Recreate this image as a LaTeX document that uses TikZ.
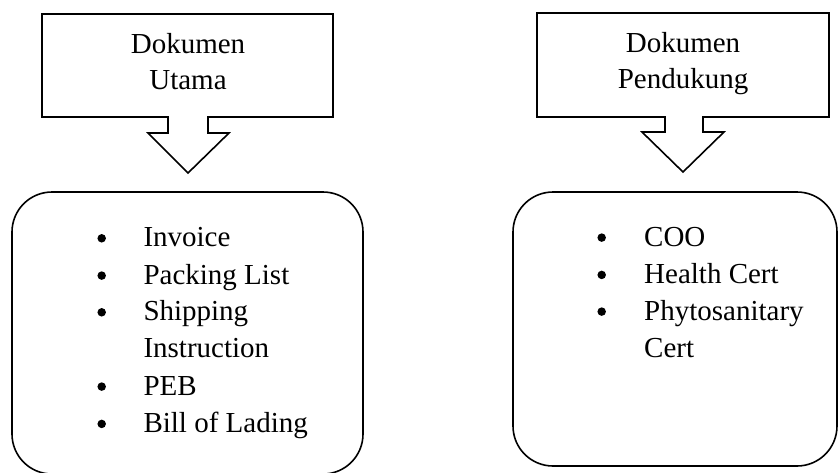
\documentclass[tikz,border=0pt]{standalone}
\usepackage{fontspec}
\setmainfont{Liberation Serif}
\begin{document}
\begin{tikzpicture}[x=1pt,y=-1pt,
  outline/.style={draw=black,line width=1.6pt,line join=miter},
  lbl/.style={inner sep=0pt,font=\fontsize{29}{36}\selectfont},
  bul/.style={circle,fill=black,inner sep=0pt,minimum size=8.5pt},
  item/.style={inner sep=0pt,font=\fontsize{29}{36}\selectfont,anchor=base west}]
\useasboundingbox (0,0) rectangle (839,472);
% left callout
\draw[outline] (42,14) -- (333,14) -- (333,117) -- (208,117) -- (208,133) -- (229,133)
  -- (188,173) -- (148,133) -- (168,133) -- (168,117) -- (42,117) -- cycle;
\node[lbl,anchor=base] (lt1) at (188,53) {Dokumen};
\node[lbl,anchor=base] (lt2) at (188,89) {Utama};
% right callout
\draw[outline] (537,13) -- (829,13) -- (829,117) -- (703,117) -- (703,132) -- (724,132)
  -- (683,172) -- (642,132) -- (665,132) -- (665,117) -- (537,117) -- cycle;
\node[lbl,anchor=base] (rt1) at (683,52) {Dokumen};
\node[lbl,anchor=base] (rt2) at (683,88) {Pendukung};
% rounded boxes
\draw[outline,rounded corners=40pt] (12,192) rectangle (363,474);
\draw[outline,rounded corners=40pt] (513,192) rectangle (837,466);
% left list
\node[bul] (lb1) at (101.7,238.3) {};
\node[item] (li1) at (143.3,246.7) {Invoice};
\node[bul] (lb2) at (101.7,275.6) {};
\node[item] (li2) at (143.3,284) {Packing List};
\node[bul] (lb3) at (101.7,312.3) {};
\node[item] (li3) at (143.3,320.7) {Shipping};
\node[item] (li3b) at (143.3,357.3) {Instruction};
\node[bul] (lb4) at (101.7,386.6) {};
\node[item] (li4) at (143.3,395) {PEB};
\node[bul] (lb5) at (101.7,423.9) {};
\node[item] (li5) at (143.3,432.3) {Bill of Lading};
% right list
\node[bul] (rb1) at (601.7,237.6) {};
\node[item] (ri1) at (644,246) {COO};
\node[bul] (rb2) at (601.7,274.9) {};
\node[item] (ri2) at (644,283.3) {Health Cert};
\node[bul] (rb3) at (601.7,311.6) {};
\node[item] (ri3) at (644,320) {Phytosanitary};
\node[item] (ri3b) at (644,357) {Cert};
\end{tikzpicture}
\end{document}
